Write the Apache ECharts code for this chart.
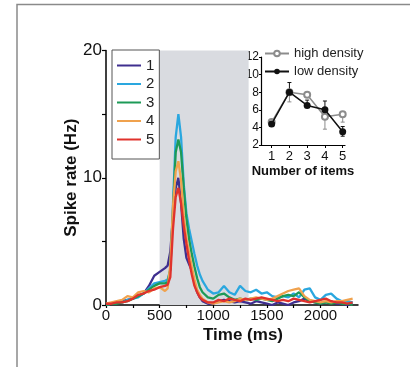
<!DOCTYPE html>
<html>
<head>
<meta charset="utf-8">
<script src="https://cdn.jsdelivr.net/npm/echarts@6/dist/echarts.min.js"></script>
<style>
html,body{margin:0;padding:0;background:#fff;}
#chart{width:410px;height:367px;}
</style>
</head>
<body>
<div id="chart"></div>
<script>
// ---- Main panel data (time in ms, spike rate in Hz) ----
const timeMs = [0,50,100,150,200,250,300,350,400,450,500,550,575,600,625,650,675,700,725,750,775,800,825,850,875,900,950,1000,1050,1100,1150,1200,1250,1300,1350,1400,1450,1500,1550,1600,1650,1700,1750,1800,1850,1900,1950,2000,2050,2100,2150,2200,2250,2300];
const rate1 = [0.1,0.1,0.2,0.3,0.4,0.5,0.7,0.9,1.5,2.3,2.6,2.9,3.1,4.2,7.0,9.2,10.0,8.0,5.2,3.7,3.2,2.7,1.7,1.0,0.6,0.3,0.1,0.1,0.3,0.4,0.3,0.2,0.3,0.2,0.1,0.3,0.2,0.1,0.0,0.2,0.1,0.0,0.2,0.3,0.5,0.3,0.2,0.1,0.2,0.3,0.1,0.1,0.0,0.1];
const rate2 = [0.0,0.1,0.2,0.2,0.4,0.5,0.6,0.9,1.3,1.7,1.8,1.9,2.0,2.8,8.0,13.2,15.0,13.2,9.5,7.2,6.0,5.0,4.0,3.1,2.4,1.9,1.2,0.9,1.0,1.5,1.0,0.8,1.5,1.1,1.0,1.2,0.9,1.0,0.7,0.6,0.7,0.6,0.9,0.6,1.2,1.3,0.6,0.4,0.8,0.9,0.5,0.3,0.3,0.2];
const rate3 = [0.0,0.1,0.1,0.2,0.3,0.5,0.7,0.9,1.2,1.5,1.7,1.7,1.8,2.8,7.5,12.0,13.0,12.0,9.2,6.8,5.2,4.0,3.0,2.1,1.4,1.0,0.6,0.5,0.8,0.9,0.6,0.4,0.5,0.4,0.5,0.4,0.5,0.4,0.3,0.5,0.7,0.8,0.7,1.0,0.6,0.3,0.2,0.1,0.2,0.1,0.2,0.1,0.1,0.0];
const rate4 = [0.1,0.2,0.3,0.4,0.7,0.6,1.0,1.1,1.0,1.3,1.4,1.1,1.3,3.2,7.8,10.5,11.3,9.8,7.0,5.2,4.1,3.0,2.0,1.2,0.8,0.5,0.2,0.1,0.2,0.3,0.2,0.3,0.5,0.4,0.5,0.6,0.5,0.4,0.5,0.7,0.9,1.1,1.2,1.3,0.7,0.4,0.3,0.2,0.3,0.2,0.3,0.3,0.4,0.5];
const rate5 = [0.1,0.1,0.2,0.2,0.3,0.5,0.8,0.9,1.1,1.2,1.4,1.5,1.6,2.2,6.0,8.5,9.2,8.0,6.2,4.8,3.5,2.4,1.5,1.0,0.6,0.4,0.2,0.2,0.4,0.3,0.5,0.4,0.3,0.5,0.4,0.5,0.6,0.5,0.4,0.3,0.4,0.3,0.5,0.4,0.3,0.2,0.3,0.4,0.5,0.3,0.2,0.2,0.1,0.2];
const seriesNames = ['1','2','3','4','5'];
const stimulusWindow = [500, 1330];
const mainXTicks = [0,250,500,750,1000,1250,1500,1750,2000,2250];
const mainXLabels = [0,500,1000,1500,2000];
const mainYTicks = [0,5,10,15,20];
const mainYLabels = [0,10,20];

// ---- Inset data ----
const items = [1,2,3,4,5];
const highDensity = [4.6,8.0,7.7,5.2,5.5];
const lowDensity = [4.4,8.0,6.5,6.0,3.5];
const highErrLo = [4.6,6.9,7.4,3.8,4.6];
const highErrHi = [4.9,8.0,7.9,5.2,5.5];
const lowErrLo = [4.1,8.0,6.5,6.0,3.0];
const lowErrHi = [4.4,9.1,7.1,7.0,4.1];

const colors = ['#3f2f8f','#2aa7df','#1d9a57','#f0a24e','#e0322c'];
const FONT = 'Liberation Sans, Arial, sans-serif';

const chart = echarts.init(document.getElementById('chart'), null, {renderer:'canvas'});

function pairs(xs, ys){ return xs.map((x,i)=>[x, ys[i]]); }
const rates = [rate1, rate2, rate3, rate4, rate5];
const plain = v => String(v);

function errRender(color){
  return function(params, api){
    const x = api.value(0), lo = api.value(1), hi = api.value(2);
    const p1 = api.coord([x, lo]), p2 = api.coord([x, hi]);
    const c = 2;
    const st = {stroke: color, lineWidth: 1};
    return {type:'group', children:[
      {type:'line', shape:{x1:p1[0],y1:p1[1],x2:p2[0],y2:p2[1]}, style:st},
      {type:'line', shape:{x1:p1[0]-c,y1:p1[1],x2:p1[0]+c,y2:p1[1]}, style:st},
      {type:'line', shape:{x1:p2[0]-c,y1:p2[1],x2:p2[0]+c,y2:p2[1]}, style:st}
    ]};
  };
}

const mainSeries = rates.map((r,i)=>({
  name: seriesNames[i], type:'line', xAxisIndex:0, yAxisIndex:0,
  data: pairs(timeMs, r), symbol:'none', showSymbol:false,
  lineStyle:{color: colors[i], width:2.3}, itemStyle:{color: colors[i]},
  z: 3, silent:true, animation:false
}));

const option = {
  animation:false,
  textStyle:{fontFamily: FONT},
  graphic:[{type:'rect', shape:{x:17, y:4.5, width:420, height:400}, style:{fill:'none', stroke:'#8a8a8a', lineWidth:1.5}, z:0}],
  legend:[
    {data: seriesNames, orient:'vertical', left:112, top:50, itemWidth:24, itemHeight:10, itemGap:3.5,
     padding:[8,5,12,5], borderColor:'#555', borderWidth:1, selectedMode:false,
     textStyle:{fontSize:15, color:'#222', lineHeight:10, fontFamily:FONT}, icon:'path://M0,4L24,4L24,6L0,6Z'},
    {data:['high density','low density'], orient:'vertical', left:264, top:47, itemWidth:24, itemHeight:7, itemGap:5,
     padding:0, selectedMode:false, textStyle:{fontSize:13, color:'#222', lineHeight:10, fontFamily:FONT}}
  ],
  grid:[
    {left:106, top:50.5, width:252, height:254.5},
    {left:261, top:57, width:84, height:88}
  ],
  xAxis:[
    {type:'value', gridIndex:0, min:0, max:2350,
     name:'Time (ms)', nameLocation:'middle', nameGap:22, nameMoveOverlap:false,
     nameTextStyle:{fontSize:17, fontWeight:'bold', color:'#111', padding:[0,0,0,22], fontFamily:FONT},
     axisLine:{lineStyle:{color:'#000', width:1.5}},
     axisTick:{show:true, length:3, customValues: mainXTicks, lineStyle:{color:'#000', width:1.2}},
     axisLabel:{customValues: mainXLabels, formatter: plain, fontSize:15, color:'#111', margin:3, fontFamily:FONT},
     splitLine:{show:false}},
    {type:'value', gridIndex:1, min:0.4, max:5.13,
     name:'Number of items', nameLocation:'middle', nameGap:20, nameMoveOverlap:false,
     nameTextStyle:{fontSize:13, fontWeight:'bold', color:'#111', fontFamily:FONT},
     axisLine:{lineStyle:{color:'#000', width:1.2}},
     axisTick:{show:true, length:3, customValues: items, lineStyle:{color:'#000'}},
     axisLabel:{customValues: items, formatter: plain, fontSize:13, color:'#111', margin:5, fontFamily:FONT},
     splitLine:{show:false}}
  ],
  yAxis:[
    {type:'value', gridIndex:0, min:0, max:20,
     name:'Spike rate (Hz)', nameLocation:'middle', nameGap:26, nameMoveOverlap:false,
     nameTextStyle:{fontSize:17, fontWeight:'bold', color:'#111', fontFamily:FONT},
     axisLine:{show:true, lineStyle:{color:'#000', width:1.5}},
     axisTick:{show:true, length:4, customValues: mainYTicks, lineStyle:{color:'#000', width:1.2}},
     axisLabel:{customValues: mainYLabels, formatter: plain, fontSize:17, color:'#111', margin:4, fontFamily:FONT},
     splitLine:{show:false}},
    {type:'value', gridIndex:1, min:2, max:12, interval:2,
     name:'Spike rate (Hz)', nameLocation:'middle', nameGap:18, nameMoveOverlap:false,
     nameTextStyle:{fontSize:12, fontWeight:'bold', color:'#111', fontFamily:FONT},
     axisLine:{show:true, lineStyle:{color:'#000', width:1.2}},
     axisTick:{show:true, length:2, lineStyle:{color:'#000'}},
     axisLabel:{fontSize:12, color:'#111', margin:2, fontFamily:FONT},
     splitLine:{show:false}}
  ],
  series:[
    {name:'stim', type:'line', xAxisIndex:0, yAxisIndex:0, data:[[0,0]], symbol:'none',
     lineStyle:{opacity:0}, silent:true, z:1,
     markArea:{silent:true, itemStyle:{color:'#d9dbe0'},
       data:[[{xAxis:stimulusWindow[0], yAxis:0},{xAxis:stimulusWindow[1], yAxis:20}]]}},
    ...mainSeries,
    {name:'high density', type:'line', xAxisIndex:1, yAxisIndex:1, data: pairs(items, highDensity),
     symbol:'emptyCircle', symbolSize:6, lineStyle:{color:'#8c8c8c', width:1.5},
     itemStyle:{color:'#8c8c8c', borderColor:'#8c8c8c', borderWidth:1.2}, z:4},
    {name:'low density', type:'line', xAxisIndex:1, yAxisIndex:1, data: pairs(items, lowDensity),
     symbol:'circle', symbolSize:7, lineStyle:{color:'#111', width:1.5},
     itemStyle:{color:'#111'}, z:5},
    {name:'high err', type:'custom', xAxisIndex:1, yAxisIndex:1,
     data: items.map((x,i)=>[x, highErrLo[i], highErrHi[i]]), encode:{x:0, y:[1,2]},
     renderItem: errRender('#8c8c8c'), z:3},
    {name:'low err', type:'custom', xAxisIndex:1, yAxisIndex:1,
     data: items.map((x,i)=>[x, lowErrLo[i], lowErrHi[i]]), encode:{x:0, y:[1,2]},
     renderItem: errRender('#111'), z:3}
  ]
};
chart.setOption(option);
</script>
</body>
</html>
